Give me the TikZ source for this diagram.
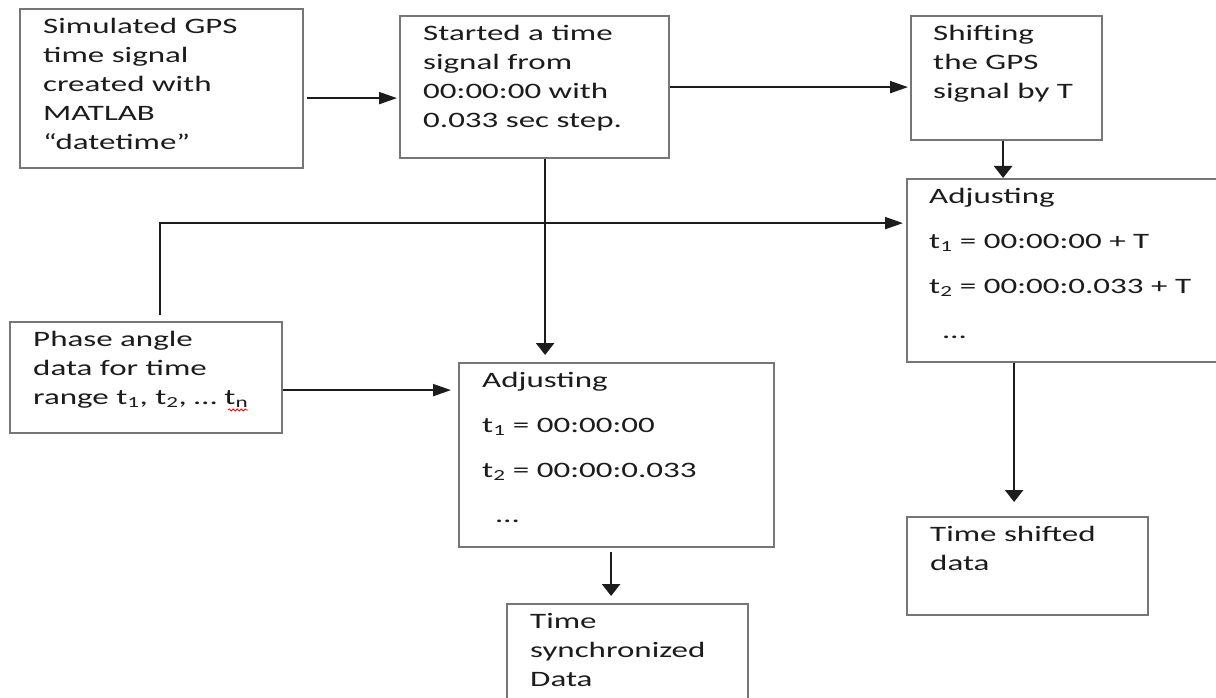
\documentclass[tikz,border=0pt]{standalone}
\usepackage{fontspec}
\setmainfont{Carlito}[FakeStretch=1.5]
\usetikzlibrary{arrows.meta,decorations.pathmorphing}

\definecolor{boxgray}{RGB}{118,118,118}
\definecolor{inkblack}{RGB}{28,28,28}

\begin{document}
\begin{tikzpicture}[x=1pt, y=-1pt,
  box/.style={draw=boxgray, line width=2.2pt, anchor=north west, inner sep=0pt, fill=white},
  % text blocks hang from their top edge: an 18pt strut fixes the first baseline
  txt/.style={anchor=north west, align=left, inner sep=0pt,
              font=\fontsize{22pt}{29pt}\selectfont, text=inkblack,
              execute at begin node=\rule{0pt}{18pt}},
  conn/.style={draw=inkblack, line width=2pt},
  harr/.style={conn, -{Triangle[length=18pt, width=12pt]}},
  varr/.style={conn, line width=2.6pt, -{Triangle[length=12pt, width=18pt]}},
]
\useasboundingbox (0,0) rectangle (1216,698);

% process boxes
\node[box, minimum width=283pt, minimum height=159pt] (sim)    at (19,8)    {};
\node[box, minimum width=269pt, minimum height=142pt] (start)  at (399,15)  {};
\node[box, minimum width=191pt, minimum height=124pt] (shift)  at (910,15)  {};
\node[box, minimum width=324pt, minimum height=183pt] (adjT)   at (906,178) {};
\node[box, minimum width=272pt, minimum height=111pt] (phase)  at (9,321)   {};
\node[box, minimum width=315pt, minimum height=184pt] (adj)    at (458,362) {};
\node[box, minimum width=241pt, minimum height=112pt] (tsync)  at (506,603) {};
\node[box, minimum width=241pt, minimum height=98pt]  (tshift) at (906,516) {};

% box texts (first baseline 28pt below the box top)
\node[txt] (simtxt) at (43,18)
  {Simulated GPS\\time signal\\created with\\MATLAB\\“datetime”};
\node[txt] (starttxt) at (423,25)
  {Started a time\\signal from\\00:00:00 with\\0.033 sec step.};
\node[txt] (shifttxt) at (933,25)
  {Shifting\\the GPS\\signal by T};
\node[txt] (adjTtxt) at (929,188)
  {Adjusting\\[16pt]t\textsubscript{1} = 00:00:00 + T\\[16pt]t\textsubscript{2} = 00:00:0.033 + T\\[16pt]\hspace*{14pt}…};
\node[txt] (phasetxt) at (33,331)
  {Phase angle\\data for time\\range t\textsubscript{1}, t\textsubscript{2}, … t\textsubscript{n}};
\node[txt] (adjtxt) at (482,372)
  {Adjusting\\[16pt]t\textsubscript{1} = 00:00:00\\[16pt]t\textsubscript{2} = 00:00:0.033\\[16pt]\hspace*{14pt}…};
\node[txt] (tsynctxt) at (530,613)
  {Time\\synchronized\\Data};
\node[txt] (tshifttxt) at (930,526)
  {Time shifted\\data};

% spell-check underline under the last subscript
\draw[red, line width=0.8pt, decorate,
      decoration={snake, amplitude=1pt, segment length=4pt}] (228,410) -- (248,410);

% connector anchor points
\coordinate (p1) at ([yshift=-9.5pt]sim.east);
\coordinate (p3) at ([xshift=-3.5pt]shift.south);
\coordinate (p4) at ([xshift=10.5pt]start.south);
\coordinate (p5) at ([xshift=14pt]phase.north);
\coordinate (p5b) at ([yshift=47.5pt]adjT.west);
\coordinate (p6) at ([yshift=-12.5pt]phase.east);
\coordinate (p7) at ([xshift=-5.5pt]adj.south);
\coordinate (p8) at ([xshift=-13.5pt]tshift.north);

% connectors
\draw[harr, shorten <=3pt, shorten >=2pt] (p1) -- (p1 -| start.west);
\draw[harr, shorten >=2pt] (start.east) -- (start.east -| shift.west);
\draw[varr] (p3) -- (p3 |- adjT.north);
\draw[varr, shorten >=7pt] (p4) -- (p4 |- adj.north);
\draw[harr, shorten <=6pt, shorten >=3pt] (p5) -- (p5 |- p5b) -- (p5b);
\draw[harr, shorten >=7pt] (p6) -- (p6 -| adj.west);
\draw[varr, shorten <=4pt, shorten >=7pt] (p7) -- (p7 |- tsync.north);
\draw[varr, shorten >=14pt] (p8 |- adjT.south) -- (p8);
\end{tikzpicture}
\end{document}
